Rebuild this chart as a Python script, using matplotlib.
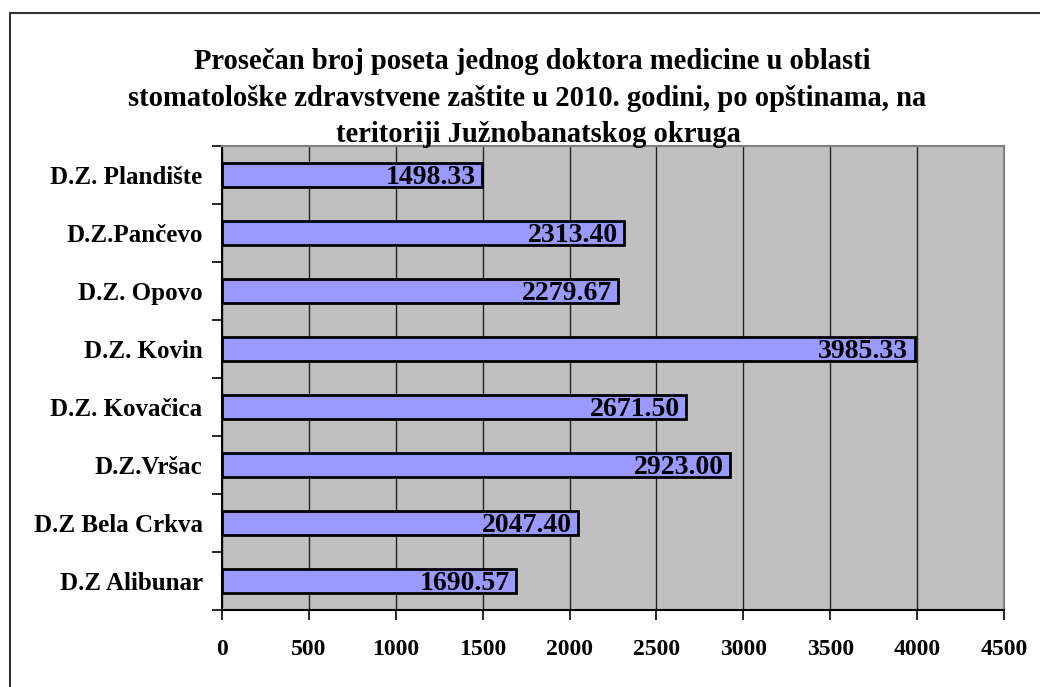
import matplotlib
matplotlib.use("Agg")
import matplotlib.pyplot as plt
from matplotlib.patches import Rectangle
import numpy as np

categories = ["D.Z Alibunar", "D.Z Bela Crkva", "D.Z.Vršac", "D.Z. Kovačica",
              "D.Z. Kovin", "D.Z. Opovo", "D.Z.Pančevo", "D.Z. Plandište"]
values = [1690.57, 2047.40, 2923.00, 2671.50, 3985.33, 2279.67, 2313.40, 1498.33]
x_ticks = [0, 500, 1000, 1500, 2000, 2500, 3000, 3500, 4000, 4500]
title_lines = ["Prosečan broj poseta jednog doktora medicine u oblasti",
               "stomatološke zdravstvene zaštite u 2010. godini, po opštinama, na",
               "teritoriji Južnobanatskog okruga"]

plt.rcParams['font.family'] = ['Liberation Serif', 'DejaVu Serif']
plt.rcParams['font.weight'] = 'bold'

W, H = 1040, 687
fig = plt.figure(figsize=(W / 100, H / 100), dpi=100)

# outer chart border (top/left visible)
fig.patches.append(Rectangle((10 / W, -0.05), 1.2, 1 - 13 / H + 0.05,
                             transform=fig.transFigure, fill=False,
                             edgecolor='#333333', linewidth=1.5))

ax = fig.add_axes([222 / W, 77 / H, (1004 - 222) / W, (610 - 146) / H])
ax.set_facecolor('#C0C0C0')

y = np.arange(len(categories))
ax.barh(y, values, height=0.42, color='#9999FF', edgecolor='black',
        linewidth=2, zorder=3)

for yi, v in zip(y, values):
    ax.text(v - 35, yi, f"{v:.2f}", ha='right', va='center_baseline',
            fontsize=20, fontweight='bold', zorder=4)

ax.set_xlim(0, 4500)
ax.set_ylim(-0.5, len(categories) - 0.5)
ax.set_xticks(x_ticks)
ax.set_xticklabels([str(t) for t in x_ticks], fontsize=17, fontweight='bold')
ax.xaxis.grid(True, color='#222222', linewidth=1, zorder=1)
ax.set_axisbelow(True)

ax.set_yticks(np.arange(len(categories) + 1) - 0.5)
ax.set_yticklabels([])
ax.set_yticks(y, minor=True)
ax.set_yticklabels(categories, minor=True, fontsize=18, fontweight='bold')
ax.tick_params(axis='y', which='minor', length=0, pad=14)
ax.tick_params(axis='y', which='major', length=7, width=1.2, direction='out')
ax.tick_params(axis='x', length=7, width=1.2, direction='out', pad=14)

ax.spines['left'].set_color('black')
ax.spines['left'].set_linewidth(1.5)
ax.spines['bottom'].set_color('black')
ax.spines['bottom'].set_linewidth(1.5)
ax.spines['right'].set_color('#808080')
ax.spines['right'].set_linewidth(1.5)
ax.spines['top'].set_color('#808080')
ax.spines['top'].set_linewidth(1.5)

baselines = [69, 106, 142]
centers = [532, 527, 538]
for line, b, c in zip(title_lines, baselines, centers):
    fig.text(c / W, 1 - b / H, line, ha='center', va='baseline',
             fontsize=20.6, fontweight='bold', zorder=5)

fig.savefig("out.png", dpi=100)
